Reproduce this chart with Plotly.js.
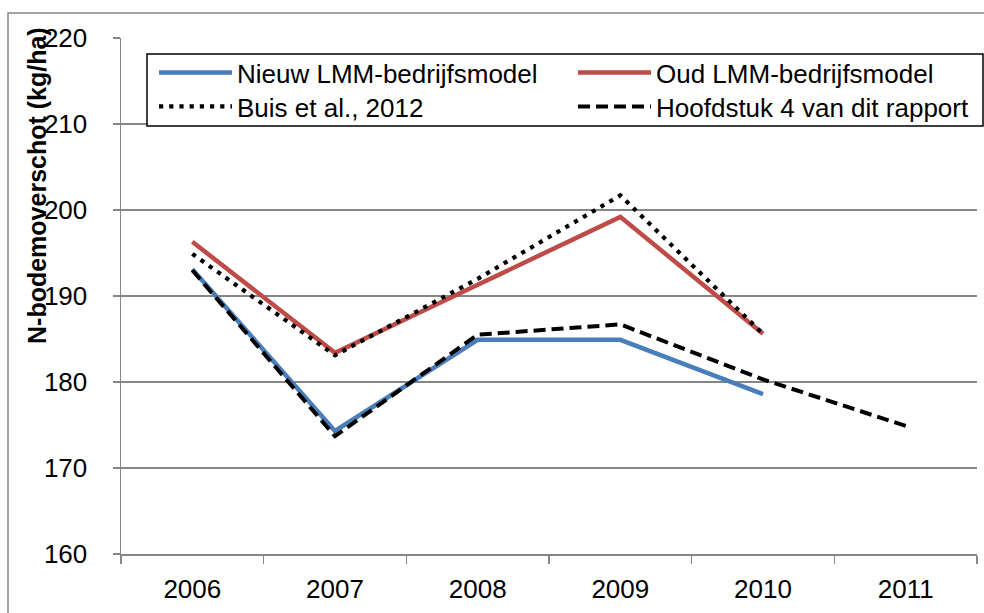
<!DOCTYPE html>
<html>
<head>
<meta charset="utf-8">
<script src="https://cdn.plot.ly/plotly-3.0.1.min.js"></script>
<style>html,body{margin:0;padding:0;background:#fff;}#chart{width:984px;height:613px;}</style>
</head>
<body>
<div id="chart"></div>
<script>
// Data
const years = ['2006', '2007', '2008', '2009', '2010', '2011'];
const nieuwLMM = [193.1, 174.3, 184.9, 184.9, 178.6, null];
const oudLMM = [196.3, 183.4, 191.3, 199.2, 185.6, null];
const buis2012 = [194.9, 183.1, 192.0, 201.7, 185.6, null];
const hoofdstuk4 = [193.0, 173.7, 185.5, 186.7, 180.3, 174.9];
const seriesNames = ['Nieuw LMM-bedrijfsmodel', 'Oud LMM-bedrijfsmodel', 'Buis et al., 2012', 'Hoofdstuk 4 van dit rapport'];
const yTitle = 'N-bodemoverschot (kg/ha)';
const yTicks = [160, 170, 180, 190, 200, 210, 220];

const FONT = 'Liberation Sans, Arial, sans-serif';
const GRAY = '#868686';

const traces = [
  {x: years, y: nieuwLMM, name: seriesNames[0], mode: 'lines', legend: 'legend',
   line: {color: '#4A7EBB', width: 4.5}},
  {x: years, y: oudLMM, name: seriesNames[1], mode: 'lines', legend: 'legend2',
   line: {color: '#BE4B48', width: 4.5}},
  {x: years, y: buis2012, name: seriesNames[2], mode: 'lines', legend: 'legend3',
   line: {color: '#000000', width: 4.2, dash: '4.2px,6px'}},
  {x: years, y: hoofdstuk4, name: seriesNames[3], mode: 'lines', legend: 'legend4',
   line: {color: '#000000', width: 4, dash: '12px,6px'}}
];

const L = 121, R = 7, T = 38, B = 59;
const W = 984, H = 613;
const pw = W - L - R, ph = H - T - B;
const px = v => (v - L) / pw;
const py = v => (H - B - v) / ph;

const legendCommon = {
  bgcolor: 'rgba(0,0,0,0)', borderwidth: 0, font: {family: FONT, size: 26, color: '#000'},
  xanchor: 'left', yanchor: 'top', orientation: 'v', itemwidth: 73, tracegroupgap: 0
};

const layout = {
  width: W, height: H,
  margin: {l: L, r: R, t: T, b: B},
  paper_bgcolor: '#fff', plot_bgcolor: '#fff',
  font: {family: FONT, size: 26, color: '#000'},
  showlegend: true,
  legend: Object.assign({}, legendCommon, {x: px(154), y: py(49)}),
  legend2: Object.assign({}, legendCommon, {x: px(573), y: py(49)}),
  legend3: Object.assign({}, legendCommon, {x: px(154), y: py(83)}),
  legend4: Object.assign({}, legendCommon, {x: px(573), y: py(83)}),
  xaxis: {
    type: 'category', range: [-0.5, 5.5],
    showgrid: false, showline: true, linecolor: GRAY, linewidth: 1.5,
    ticks: 'outside', tickson: 'boundaries', ticklen: 8, tickwidth: 1.5, tickcolor: GRAY,
    tickfont: {family: FONT, size: 26, color: '#000'}, ticklabelstandoff: 11,
    zeroline: false, fixedrange: true
  },
  yaxis: {
    range: [160, 220], tickvals: yTicks, ticktext: yTicks.map(String),
    showgrid: true, gridcolor: GRAY, gridwidth: 1.5,
    showline: true, linecolor: GRAY, linewidth: 1.5,
    ticks: 'outside', ticklen: 7, tickwidth: 1.5, tickcolor: GRAY,
    tickfont: {family: FONT, size: 26, color: '#000'}, ticklabelstandoff: 20,
    zeroline: false, fixedrange: true
  },
  shapes: [
    {type: 'rect', xref: 'paper', yref: 'paper', x0: px(8), x1: px(995), y0: py(625), y1: py(13),
     line: {color: GRAY, width: 1.5}, fillcolor: 'rgba(0,0,0,0)', layer: 'below'},
    {type: 'rect', xref: 'paper', yref: 'paper', x0: px(147), x1: px(983), y0: py(126), y1: py(54),
     line: {color: '#000', width: 1.5}, fillcolor: '#fff', layer: 'above'}
  ],
  annotations: [
    {text: '<b>' + yTitle + '</b>', xref: 'paper', yref: 'paper', x: px(37), y: py(186),
     xanchor: 'center', yanchor: 'middle', textangle: -90, showarrow: false,
     font: {family: FONT, size: 25, color: '#000'}}
  ]
};

Plotly.newPlot('chart', traces, layout, {displayModeBar: false, staticPlot: true});
</script>
</body>
</html>
